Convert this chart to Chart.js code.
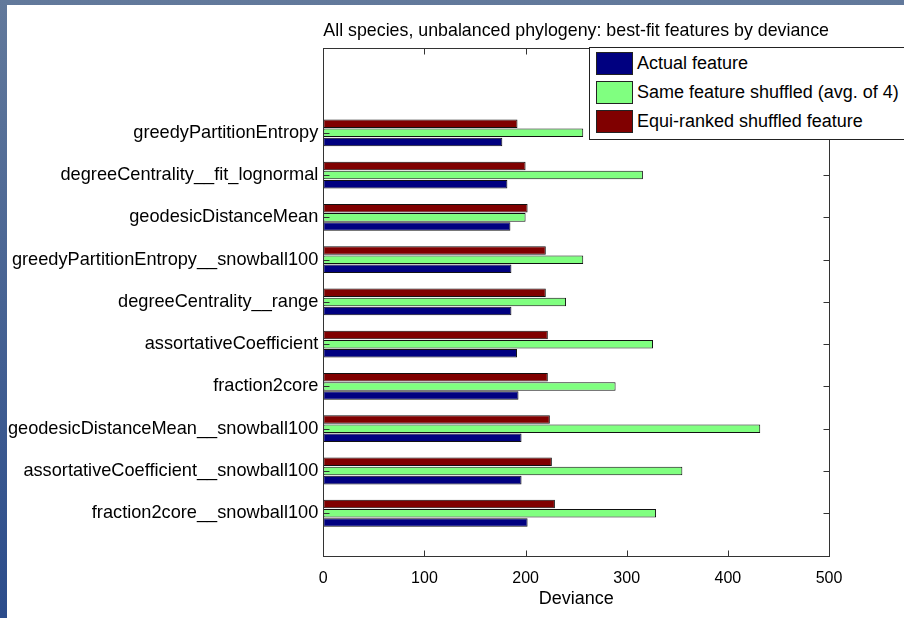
<!DOCTYPE html>
<html>
<head>
<meta charset="utf-8">
<script src="https://cdn.jsdelivr.net/npm/chart.js@4.4.0/dist/chart.umd.min.js"></script>
<style>
  html, body { margin: 0; padding: 0; }
  body {
    width: 904px; height: 618px; overflow: hidden; position: relative;
    background: linear-gradient(to bottom, #62799b, #2b4c8b);
    font-family: "Liberation Sans", Arial, sans-serif;
  }
  #panel { position: absolute; left: 7px; top: 5px; width: 897px; height: 613px; background: #fff; overflow: hidden; }
  #legend {
    position: absolute; left: 582px; top: 42px; width: 340px; height: 93px;
    box-sizing: border-box; border: 1px solid #222; background: #fff; padding-top: 1px;
  }
  .row { display: flex; align-items: center; height: 29px; font-size: 18px; color: #000; }
  .sw { width: 37px; height: 23px; box-sizing: border-box; border: 1px solid #222; margin-left: 6px; margin-right: 4px; }
</style>
</head>
<body>
<div id="panel">
  <canvas id="myChart"></canvas>
  <div id="legend"></div>
</div>
<script>
const categories = [
  "greedyPartitionEntropy",
  "degreeCentrality__fit_lognormal",
  "geodesicDistanceMean",
  "greedyPartitionEntropy__snowball100",
  "degreeCentrality__range",
  "assortativeCoefficient",
  "fraction2core",
  "geodesicDistanceMean__snowball100",
  "assortativeCoefficient__snowball100",
  "fraction2core__snowball100"
];
const actualFeature = [177, 182, 185, 186, 186, 191.5, 193, 196, 196, 202];
const sameShuffled = [257, 316, 200, 257, 240, 326, 289, 432, 355, 329];
const equiRanked = [192, 200, 202, 220, 220, 222, 222, 224, 226, 229];
const xTicks = [0, 100, 200, 300, 400, 500];

// two empty rows above and one below, like the original axis limits
const labels = ["", "", ...categories, ""];
const pad = (arr) => [null, null, ...arr, null];

const series = [
  { label: "Actual feature", data: actualFeature, color: "#000080" },
  { label: "Same feature shuffled (avg. of 4)", data: sameShuffled, color: "#80ff80" },
  { label: "Equi-ranked shuffled feature", data: equiRanked, color: "#800000" }
];

// ticks drawn inside the box, matlab style
const boxTicks = {
  id: "boxTicks",
  afterDatasetsDraw(chart) {
    const { ctx, chartArea: a, scales: { x, y } } = chart;
    const L = Math.round(a.left) + 0.5, R = Math.round(a.right) + 0.5;
    const T = Math.round(a.top) + 0.5, B = Math.round(a.bottom) + 0.5;
    ctx.save();
    ctx.strokeStyle = "#333";
    ctx.lineWidth = 1;
    ctx.beginPath();
    x.ticks.forEach((t, i) => {
      const px = Math.round(x.getPixelForTick(i)) + 0.5;
      ctx.moveTo(px, B); ctx.lineTo(px, B - 6);
      ctx.moveTo(px, T); ctx.lineTo(px, T + 6);
    });
    y.ticks.forEach((t, i) => {
      if (!labels[t.value]) return;
      const py = Math.round(y.getPixelForTick(i)) + 0.5;
      ctx.moveTo(L, py); ctx.lineTo(L + 6, py);
      ctx.moveTo(R, py); ctx.lineTo(R - 6, py);
    });
    ctx.stroke();
    ctx.strokeRect(L, T, R - L, B - T);
    ctx.restore();
  }
};

const ctx = document.getElementById("myChart").getContext("2d");
const mychart = new Chart(ctx, {
  type: "bar",
  data: {
    labels: labels,
    // drawn top to bottom inside each group: red, green, blue
    datasets: [series[2], series[1], series[0]].map(s => ({
      label: s.label,
      data: pad(s.data),
      backgroundColor: s.color,
      borderColor: "#111",
      borderWidth: 1,
      borderSkipped: false,
      categoryPercentage: 0.65,
      barPercentage: 0.93
    }))
  },
  options: {
    indexAxis: "y",
    animation: false,
    responsive: true,
    maintainAspectRatio: false,
    layout: { padding: { left: 0, right: 75, top: 0, bottom: 0 } },
    plugins: {
      legend: { display: false },
      tooltip: { enabled: false },
      title: {
        display: true,
        text: "All species, unbalanced phylogeny: best-fit features by deviance",
        fullSize: false,
        color: "#000",
        font: { family: "Liberation Sans", size: 18.6, weight: "normal" },
        padding: { top: 15, bottom: 6 }
      }
    },
    scales: {
      x: {
        type: "linear",
        min: 0,
        max: 500,
        afterBuildTicks: (s) => { s.ticks = xTicks.map(v => ({ value: v })); },
        afterFit: (s) => { s.height = 62.5; },
        grid: { display: false, drawTicks: false },
        border: { display: false },
        ticks: { color: "#000", padding: 13, font: { family: "Liberation Sans", size: 16 } },
        title: {
          display: true,
          text: "Deviance",
          color: "#000",
          font: { family: "Liberation Sans", size: 18 },
          padding: { top: 0, bottom: 8 }
        }
      },
      y: {
        type: "category",
        offset: false,
        afterFit: (s) => { s.width = 316.3; },
        grid: { display: false, drawTicks: false, offset: false },
        border: { display: false },
        ticks: { color: "#000", padding: 5, autoSkip: false, font: { family: "Liberation Sans", size: 18.2 } }
      }
    }
  },
  plugins: [boxTicks]
});

// legend sits over the top-right corner of the plot
const legendEl = document.getElementById("legend");
series.forEach(s => {
  const row = document.createElement("div");
  row.className = "row";
  const sw = document.createElement("div");
  sw.className = "sw";
  sw.style.background = s.color;
  const txt = document.createElement("span");
  txt.textContent = s.label;
  row.appendChild(sw);
  row.appendChild(txt);
  legendEl.appendChild(row);
});
</script>
</body>
</html>
